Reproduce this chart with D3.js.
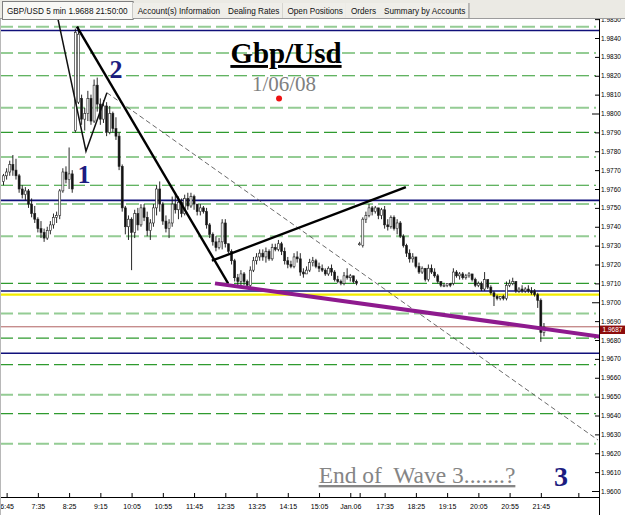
<!DOCTYPE html>
<html>
<head>
<meta charset="utf-8">
<script src="https://cdn.jsdelivr.net/npm/d3@7"></script>
<style>
  body { margin: 0; background: #fff; }
  svg { display: block; }
</style>
</head>
<body>
<svg width="625" height="515"></svg>
<script>
const svg = d3.select("svg");
const width = +svg.attr("width");
const height = +svg.attr("height");

const plot = { left: 0, right: 599, top: 19, bottom: 497 };

/* ---------- data ---------- */

// 5 min bars, Friday 6:40 .. 16:05  [open, high, low, close]
const fridayBars = [
  [1.9764,1.9768,1.9762,1.9767],[1.9767,1.9771,1.9765,1.9769],[1.9769,1.9775,1.9767,1.9773],
  [1.9773,1.9778,1.9767,1.9770],[1.9770,1.9776,1.9765,1.9767],[1.9767,1.9768,1.9758,1.9760],
  [1.9760,1.9762,1.9755,1.9757],[1.9757,1.9761,1.9754,1.9759],[1.9759,1.9760,1.9750,1.9752],
  [1.9752,1.9755,1.9745,1.9747],[1.9747,1.9751,1.9742,1.9744],[1.9744,1.9745,1.9737,1.9739],
  [1.9739,1.9743,1.9734,1.9737],[1.9737,1.9739,1.9732,1.9734],[1.9734,1.9740,1.9733,1.9738],
  [1.9738,1.9743,1.9736,1.9741],[1.9741,1.9747,1.9739,1.9745],[1.9745,1.9748,1.9742,1.9746],
  [1.9746,1.9760,1.9744,1.9759],[1.9759,1.9771,1.9758,1.9769],[1.9769,1.9772,1.9763,1.9765],
  [1.9765,1.9782,1.9760,1.9768],[1.9768,1.9770,1.9758,1.9760],[1.9791,1.9845,1.9790,1.9843],
  [1.9806,1.9846,1.9805,1.9842],[1.9808,1.9810,1.9794,1.9797],[1.9797,1.9803,1.9791,1.9800],
  [1.9800,1.9812,1.9796,1.9808],[1.9808,1.9810,1.9794,1.9796],[1.9796,1.9818,1.9795,1.9815],
  [1.9815,1.9819,1.9801,1.9805],[1.9805,1.9808,1.9794,1.9797],[1.9797,1.9807,1.9795,1.9804],
  [1.9804,1.9806,1.9788,1.9790],[1.9790,1.9804,1.9789,1.9800],[1.9800,1.9801,1.9790,1.9792],
  [1.9792,1.9798,1.9786,1.9788],[1.9788,1.9790,1.9770,1.9772],[1.9772,1.9773,1.9748,1.9750],
  [1.9750,1.9751,1.9736,1.9740],[1.9740,1.9746,1.9733,1.9744],[1.9744,1.9745,1.9717,1.9737],
  [1.9737,1.9749,1.9734,1.9747],[1.9747,1.9750,1.9738,1.9741],[1.9741,1.9752,1.9740,1.9750],
  [1.9750,1.9752,1.9743,1.9745],[1.9745,1.9748,1.9735,1.9738],[1.9738,1.9744,1.9733,1.9742],
  [1.9742,1.9752,1.9740,1.9750],[1.9750,1.9762,1.9746,1.9760],[1.9760,1.9764,1.9748,1.9752],
  [1.9752,1.9753,1.9741,1.9743],[1.9743,1.9746,1.9737,1.9739],[1.9739,1.9744,1.9734,1.9742],
  [1.9742,1.9756,1.9740,1.9752],[1.9752,1.9758,1.9747,1.9749],[1.9749,1.9756,1.9744,1.9753],
  [1.9753,1.9755,1.9745,1.9747],[1.9747,1.9757,1.9746,1.9755],[1.9755,1.9758,1.9749,1.9751],
  [1.9751,1.9758,1.9750,1.9756],[1.9756,1.9757,1.9749,1.9752],[1.9752,1.9752,1.9746,1.9748],
  [1.9748,1.9752,1.9746,1.9750],[1.9750,1.9751,1.9747,1.9748],[1.9748,1.9750,1.9739,1.9741],
  [1.9741,1.9742,1.9734,1.9736],[1.9736,1.9737,1.9730,1.9732],[1.9732,1.9735,1.9727,1.9729],
  [1.9729,1.9734,1.9728,1.9732],[1.9732,1.9744,1.9728,1.9742],[1.9742,1.9744,1.9729,1.9731],
  [1.9731,1.9731,1.9726,1.9727],[1.9727,1.9728,1.9720,1.9722],[1.9722,1.9723,1.9711,1.9713],
  [1.9713,1.9715,1.9709,1.9711],[1.9711,1.9717,1.9709,1.9715],[1.9715,1.9716,1.9709,1.9711],
  [1.9711,1.9712,1.9708,1.9709],[1.9709,1.9719,1.9708,1.9717],[1.9717,1.9724,1.9716,1.9722],
  [1.9722,1.9726,1.9720,1.9724],[1.9724,1.9728,1.9722,1.9726],[1.9726,1.9728,1.9722,1.9724],
  [1.9724,1.9729,1.9721,1.9727],[1.9727,1.9728,1.9722,1.9723],[1.9723,1.9731,1.9722,1.9729],
  [1.9729,1.9731,1.9727,1.9728],[1.9728,1.9733,1.9727,1.9731],[1.9731,1.9732,1.9725,1.9727],
  [1.9727,1.9729,1.9720,1.9722],[1.9722,1.9724,1.9718,1.9720],[1.9720,1.9722,1.9718,1.9719],
  [1.9719,1.9726,1.9718,1.9724],[1.9724,1.9727,1.9721,1.9723],[1.9723,1.9726,1.9714,1.9716],
  [1.9716,1.9718,1.9713,1.9715],[1.9715,1.9719,1.9715,1.9717],[1.9717,1.9723,1.9716,1.9721],
  [1.9721,1.9724,1.9719,1.9722],[1.9722,1.9723,1.9718,1.9719],[1.9719,1.9721,1.9716,1.9718],
  [1.9718,1.9720,1.9716,1.9717],[1.9717,1.9718,1.9714,1.9715],[1.9715,1.9719,1.9714,1.9718],
  [1.9718,1.9720,1.9714,1.9716],[1.9716,1.9717,1.9711,1.9712],[1.9712,1.9714,1.9710,1.9711],
  [1.9711,1.9712,1.9709,1.9710],[1.9710,1.9716,1.9709,1.9714],[1.9714,1.9718,1.9712,1.9713],
  [1.9713,1.9715,1.9711,1.9714],[1.9714,1.9714,1.9710,1.9711],[1.9711,1.9712,1.9709,1.9710]
];

// Sunday Jan.06, 16:55 .. 21:50
const sundayBars = [
  [1.9731,1.9732,1.9730,1.9731],[1.9730,1.9745,1.9729,1.9744],[1.9744,1.9748,1.9742,1.9746],
  [1.9746,1.9752,1.9745,1.9750],[1.9750,1.9751,1.9746,1.9748],[1.9748,1.9751,1.9747,1.9750],
  [1.9750,1.9750,1.9744,1.9746],[1.9746,1.9750,1.9744,1.9749],[1.9749,1.9751,1.9739,1.9741],
  [1.9741,1.9744,1.9738,1.9740],[1.9740,1.9746,1.9739,1.9745],[1.9745,1.9746,1.9738,1.9739],
  [1.9739,1.9744,1.9736,1.9742],[1.9742,1.9743,1.9734,1.9735],[1.9735,1.9736,1.9729,1.9730],
  [1.9730,1.9731,1.9724,1.9726],[1.9726,1.9728,1.9721,1.9723],[1.9723,1.9726,1.9721,1.9724],
  [1.9724,1.9724,1.9718,1.9719],[1.9719,1.9721,1.9715,1.9716],[1.9716,1.9719,1.9715,1.9718],
  [1.9718,1.9718,1.9711,1.9712],[1.9712,1.9720,1.9711,1.9718],[1.9718,1.9720,1.9715,1.9716],
  [1.9716,1.9718,1.9713,1.9714],[1.9714,1.9715,1.9710,1.9711],[1.9711,1.9711,1.9708,1.9709],
  [1.9709,1.9710,1.9708,1.9709],[1.9709,1.9710,1.9708,1.9710],[1.9710,1.9710,1.9708,1.9709],
  [1.9710,1.9718,1.9709,1.9716],[1.9716,1.9717,1.9713,1.9714],[1.9714,1.9716,1.9712,1.9715],
  [1.9715,1.9716,1.9712,1.9713],[1.9713,1.9715,1.9712,1.9714],[1.9714,1.9716,1.9713,1.9715],
  [1.9715,1.9715,1.9711,1.9712],[1.9712,1.9713,1.9708,1.9709],[1.9709,1.9711,1.9708,1.9710],
  [1.9710,1.9711,1.9706,1.9707],[1.9707,1.9716,1.9706,1.9712],[1.9712,1.9712,1.9707,1.9708],
  [1.9708,1.9709,1.9704,1.9705],[1.9705,1.9706,1.9698,1.9703],[1.9703,1.9704,1.9701,1.9702],
  [1.9702,1.9703,1.9701,1.9703],[1.9703,1.9704,1.9701,1.9702],[1.9702,1.9711,1.9701,1.9709],
  [1.9709,1.9712,1.9708,1.9710],[1.9710,1.9713,1.9709,1.9711],[1.9711,1.9711,1.9705,1.9706],
  [1.9706,1.9708,1.9705,1.9707],[1.9707,1.9709,1.9705,1.9706],[1.9706,1.9708,1.9705,1.9707],
  [1.9707,1.9709,1.9705,1.9706],[1.9706,1.9708,1.9704,1.9705],[1.9706,1.9707,1.9703,1.9704],
  [1.9704,1.9705,1.9697,1.9701],[1.9701,1.9702,1.9679,1.9684],[1.9684,1.9689,1.9682,1.9687]
];

// horizontal levels
const lightLevels = [1.9846, 1.9832, 1.9803, 1.9777, 1.9752, 1.9735, 1.9694, 1.9651, 1.9625];
const darkLevels = [1.9820, 1.9790, 1.9762, 1.9710, 1.9681, 1.9667, 1.9641];
const supportLevels = [1.9844, 1.9754, 1.9706, 1.9673];
const yellowLevel = 1.9704;

// drawn studies [bar position, price]
const waveOneLine = [[16.8, 1.9855], [26.4, 1.9780], [33.1, 1.9811]];
const projectionLine = [[33.1, 1.9811], [190.3, 1.9627]];
const downTrendLine = [[23.5, 1.9846], [71.9, 1.9710]];
const riseLine = [[66.7, 1.9722], [128.8, 1.9761]];
const purpleLine = [[67.7, 1.9710], [198.9, 1.9680]];
const redDot = [88.2, 1.9808];

// axes
const priceTicks = [1.9850, 1.9840, 1.9830, 1.9820, 1.9810, 1.9800, 1.9790, 1.9780, 1.9770,
  1.9760, 1.9750, 1.9740, 1.9730, 1.9720, 1.9710, 1.9700, 1.9690, 1.9680, 1.9670, 1.9660,
  1.9650, 1.9640, 1.9630, 1.9620, 1.9610, 1.9600];
const majorPrices = [1.9800, 1.9700, 1.9600];
const timeTicks = [
  [1, "6:45"], [11, "7:35"], [21, "8:25"], [31, "9:15"], [41, "10:05"], [51, "10:55"],
  [61, "11:45"], [71, "12:35"], [81, "13:25"], [91, "14:15"], [101, "15:05"], [111, "Jan.06"],
  [114, ""], [122, "17:35"], [132, "18:25"], [142, "19:15"], [152, "20:05"], [162, "20:55"],
  [172, "21:45"], [184, ""]
];

const tabLabels = ["GBP/USD 5 min 1.9688 21:50:00", "Account(s) Information", "Dealing Rates",
  "Open Positions", "Orders", "Summary by Accounts"];

/* ---------- scales ---------- */

const bars = fridayBars.concat(sundayBars).map((d, i) => ({ pos: i, o: d[0], h: d[1], l: d[2], c: d[3] }));

const x = d3.scaleLinear().domain([0, 191]).range([3.5, 600.2]);
const y = d3.scaleLinear().domain([1.9600, 1.9840]).range([491, 38]);

svg.append("rect").attr("width", width).attr("height", height).attr("fill", "#fff");

svg.append("defs").append("clipPath").attr("id", "plotClip")
  .append("rect")
  .attr("x", plot.left).attr("y", plot.top)
  .attr("width", plot.right - plot.left).attr("height", plot.bottom - plot.top);

const chart = svg.append("g").attr("clip-path", "url(#plotClip)");

/* ---------- levels ---------- */

chart.selectAll(".light").data(lightLevels).join("line")
  .attr("x1", 0).attr("x2", 596)
  .attr("y1", d => y(d)).attr("y2", d => y(d))
  .attr("stroke", "#94cc94").attr("stroke-width", 2).attr("stroke-dasharray", "13,5");

chart.selectAll(".dark").data(darkLevels).join("line")
  .attr("x1", 0).attr("x2", 596)
  .attr("y1", d => y(d)).attr("y2", d => y(d))
  .attr("stroke", "#2f9a2f").attr("stroke-width", 1.2).attr("stroke-dasharray", "13,5");

chart.selectAll(".support").data(supportLevels).join("line")
  .attr("x1", 0).attr("x2", plot.right)
  .attr("y1", d => y(d)).attr("y2", d => y(d))
  .attr("stroke", "#10107a").attr("stroke-width", 1.6);

chart.append("line")
  .attr("x1", 0).attr("x2", plot.right)
  .attr("y1", y(yellowLevel)).attr("y2", y(yellowLevel))
  .attr("stroke", "#f2ec00").attr("stroke-width", 2.2);

const lastClose = bars[bars.length - 1].c;
chart.append("line")
  .attr("x1", 0).attr("x2", plot.right)
  .attr("y1", y(lastClose)).attr("y2", y(lastClose))
  .attr("stroke", "#b06060").attr("stroke-width", 1);

/* ---------- candles ---------- */

chart.selectAll(".wick").data(bars).join("line")
  .attr("x1", d => x(d.pos)).attr("x2", d => x(d.pos))
  .attr("y1", d => y(d.h)).attr("y2", d => y(d.l))
  .attr("stroke", "#111").attr("stroke-width", 0.9);

chart.selectAll(".body").data(bars).join("rect")
  .attr("x", d => x(d.pos) - 1)
  .attr("width", 2)
  .attr("y", d => y(Math.max(d.o, d.c)))
  .attr("height", d => Math.max(1, Math.abs(y(d.o) - y(d.c))))
  .attr("fill", d => d.c >= d.o ? "#fff" : "#111")
  .attr("stroke", "#222")
  .attr("stroke-width", 0.6);

/* ---------- drawn studies ---------- */

const line = d3.line().x(d => x(d[0])).y(d => y(d[1]));

chart.append("path").datum(projectionLine).attr("d", line)
  .attr("fill", "none").attr("stroke", "#444").attr("stroke-width", 0.8)
  .attr("stroke-dasharray", "5,3");

chart.append("path").datum(waveOneLine).attr("d", line)
  .attr("fill", "none").attr("stroke", "#111").attr("stroke-width", 1.5);

chart.append("path").datum(downTrendLine).attr("d", line)
  .attr("fill", "none").attr("stroke", "#000").attr("stroke-width", 2.4);

chart.append("path").datum(riseLine).attr("d", line)
  .attr("fill", "none").attr("stroke", "#000").attr("stroke-width", 2.4);

chart.append("path").datum(purpleLine).attr("d", line)
  .attr("fill", "none").attr("stroke", "#8e1a8e").attr("stroke-width", 4);

chart.append("circle")
  .attr("cx", x(redDot[0])).attr("cy", y(redDot[1])).attr("r", 3)
  .attr("fill", "#ee1111");

/* ---------- annotations ---------- */

svg.append("text")
  .attr("x", 286).attr("y", 63)
  .attr("text-anchor", "middle")
  .attr("font-family", "Liberation Serif, Times New Roman, serif")
  .attr("font-weight", "bold").attr("font-size", 29)
  .attr("text-decoration", "underline")
  .attr("fill", "#000")
  .text("Gbp/Usd");

svg.append("text")
  .attr("x", 284).attr("y", 91)
  .attr("text-anchor", "middle")
  .attr("font-family", "Liberation Serif, Times New Roman, serif")
  .attr("font-size", 21)
  .attr("fill", "#808080")
  .text("1/06/08");

const waveLabel = (tx, ty, t, size) => svg.append("text")
  .attr("x", tx).attr("y", ty)
  .attr("text-anchor", "middle")
  .attr("font-family", "Liberation Serif, Times New Roman, serif")
  .attr("font-weight", "bold").attr("font-size", size)
  .attr("fill", "#1c1c80")
  .text(t);

waveLabel(116, 78, "2", 26);
waveLabel(84, 183, "1", 26);
waveLabel(561, 486, "3", 28);

svg.append("text")
  .attr("x", 417).attr("y", 483)
  .attr("text-anchor", "middle")
  .attr("font-family", "Liberation Serif, Times New Roman, serif")
  .attr("font-size", 23.5)
  .attr("text-decoration", "underline")
  .attr("fill", "#858585")
  .attr("xml:space", "preserve")
  .text("End of  Wave 3.......?");

/* ---------- axes ---------- */

const yAxis = d3.axisRight(y)
  .tickValues(priceTicks)
  .tickFormat(d3.format(".4f"))
  .tickSize(-4)
  .tickSizeOuter(0)
  .tickPadding(2);

const yg = svg.append("g")
  .attr("transform", `translate(${plot.right},0)`)
  .call(yAxis);
yg.select(".domain").remove();
yg.selectAll("text")
  .attr("font-family", "Liberation Sans, Arial, sans-serif")
  .attr("font-size", 6.5).attr("fill", "#000");
yg.selectAll(".tick line")
  .attr("x2", d => majorPrices.includes(d) ? -7 : -4)
  .attr("stroke", "#000");

const tickLabel = new Map(timeTicks);
const xAxis = d3.axisBottom(x)
  .tickValues(timeTicks.map(d => d[0]))
  .tickFormat(d => tickLabel.get(d))
  .tickSize(-4)
  .tickSizeOuter(0)
  .tickPadding(7);

const xg = svg.append("g")
  .attr("transform", `translate(0,${plot.bottom})`)
  .call(xAxis);
xg.select(".domain").remove();
xg.selectAll("text")
  .attr("font-family", "Liberation Sans, Arial, sans-serif")
  .attr("font-size", 7).attr("fill", "#000");
xg.selectAll(".tick line").attr("stroke", "#000");

svg.append("line")
  .attr("x1", 0).attr("x2", plot.right + 0.5)
  .attr("y1", plot.bottom + 0.5).attr("y2", plot.bottom + 0.5)
  .attr("stroke", "#000");

svg.append("line")
  .attr("x1", plot.right + 0.5).attr("x2", plot.right + 0.5)
  .attr("y1", plot.top).attr("y2", height)
  .attr("stroke", "#000");

svg.append("line")
  .attr("x1", 0.5).attr("x2", 0.5)
  .attr("y1", plot.top).attr("y2", height)
  .attr("stroke", "#b8b8b8");

// last price tag, sits just under the price level like the platform draws it
const tag = svg.append("g").attr("transform", `translate(${plot.right + 1},${y(lastClose)})`);
tag.append("rect")
  .attr("x", 0).attr("y", -1.2).attr("width", 25).attr("height", 8.4)
  .attr("fill", "#8e0c0c");
tag.append("text")
  .attr("x", 12.5).attr("y", 5.3)
  .attr("text-anchor", "middle")
  .attr("font-family", "Liberation Sans, Arial, sans-serif")
  .attr("font-size", 6.5).attr("fill", "#fff")
  .text(d3.format(".4f")(lastClose));

/* ---------- tab strip ---------- */

const strip = svg.append("g");
strip.append("rect")
  .attr("width", width).attr("height", plot.top)
  .attr("fill", "#ebeae4");
strip.append("line")
  .attr("x1", 0).attr("x2", width)
  .attr("y1", plot.top - 0.5).attr("y2", plot.top - 0.5)
  .attr("stroke", "#9c9c9c");

let tabX = 2;
tabLabels.forEach((label, i) => {
  const g = strip.append("g");
  const bg = g.append("rect");
  const t = g.append("text")
    .attr("x", tabX + 5).attr("y", 13.5)
    .attr("font-family", "Liberation Sans, Arial, sans-serif")
    .attr("font-size", 8.2).attr("fill", "#111")
    .text(label);
  const w = t.node().getComputedTextLength() + (i === 0 ? 10 : 8);
  if (i === 0) {
    bg.attr("x", tabX + 0.5).attr("y", 1.5).attr("width", w).attr("height", plot.top - 1)
      .attr("fill", "#f8f8f5").attr("stroke", "#808080");
  } else {
    bg.attr("x", tabX).attr("y", 3).attr("width", w).attr("height", plot.top - 4)
      .attr("fill", "#efeee9");
  }
  g.append("line")
    .attr("x1", tabX + w + 0.5).attr("x2", tabX + w + 0.5)
    .attr("y1", 3).attr("y2", plot.top - 1)
    .attr("stroke", "#8a8a8a");
  tabX += w;
});
</script>
</body>
</html>
